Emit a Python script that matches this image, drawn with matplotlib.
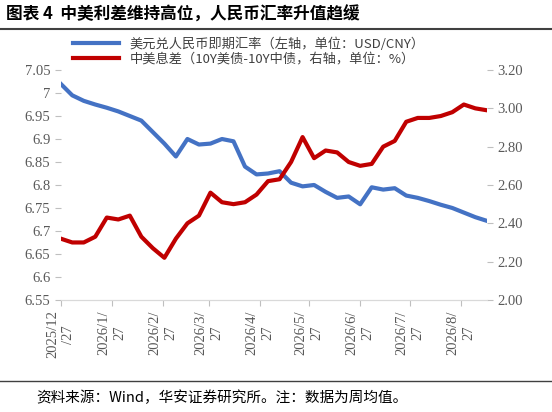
import numpy as np
import matplotlib.pyplot as plt
from matplotlib.lines import Line2D

plt.rcParams['font.family'] = ['Noto Sans CJK SC', 'DejaVu Sans']

usdcny = [7.02, 6.995, 6.983, 6.975, 6.968, 6.96, 6.95, 6.94, 6.915, 6.89,
          6.862, 6.90, 6.888, 6.89, 6.90, 6.895, 6.84, 6.823, 6.825, 6.83,
          6.805, 6.797, 6.80, 6.785, 6.772, 6.775, 6.758, 6.795, 6.79, 6.793,
          6.777, 6.772, 6.765, 6.757, 6.75, 6.74, 6.73, 6.722]
spread = [2.32, 2.30, 2.30, 2.33, 2.43, 2.42, 2.44, 2.33, 2.27, 2.22,
          2.32, 2.40, 2.44, 2.56, 2.51, 2.50, 2.51, 2.55, 2.62, 2.63,
          2.72, 2.85, 2.74, 2.78, 2.77, 2.72, 2.70, 2.71, 2.80, 2.83,
          2.93, 2.95, 2.95, 2.96, 2.98, 3.02, 3.00, 2.99]
tick_days = [0, 31, 62, 90, 121, 151, 182, 212, 243]
tick_labels = ['2025/12\n/27', '2026/1/\n27', '2026/2/\n27', '2026/3/\n27', '2026/4/\n27',
               '2026/5/\n27', '2026/6/\n27', '2026/7/\n27', '2026/8/\n27']

days = np.arange(len(usdcny)) * 7

fig = plt.figure(figsize=(5.52, 4.12), dpi=100)
ax = fig.add_axes([0.11, 0.272, 0.772, 0.558])
ax2 = ax.twinx()
ax.plot(days, usdcny, color='#4472C4', lw=3)
ax2.plot(days, spread, color='#C00000', lw=3)

ax.set_ylim(6.55, 7.05)
ax.set_yticks(np.arange(6.55, 7.051, 0.05))
ax.set_yticklabels(['6.55', '6.6', '6.65', '6.7', '6.75', '6.8', '6.85', '6.9', '6.95', '7', '7.05'])
ax2.set_ylim(2.0, 3.2)
ax2.set_yticks(np.arange(2.0, 3.21, 0.2))
ax2.set_yticklabels(['%.2f' % v for v in np.arange(2.0, 3.21, 0.2)])
ax.set_xlim(0, days[-1])
ax.set_xticks(tick_days)
ax.set_xticklabels(tick_labels, rotation=90, va='top', ha='center', linespacing=1.3)

for a in (ax, ax2):
    for s in a.spines.values():
        s.set_visible(False)
    a.spines['bottom'].set_visible(True)
    a.spines['bottom'].set_color('#D9D9D9')
    a.tick_params(colors='#595959', labelsize=10.5, length=4, width=0.8)
    a.tick_params(axis='both', color='#BFBFBF')
    for t in a.get_yticklabels() + a.get_xticklabels():
        t.set_family(['Liberation Serif', 'DejaVu Serif'])

handles = [Line2D([], [], color='#4472C4', lw=3), Line2D([], [], color='#C00000', lw=3)]
fig.legend(handles, ['美元兑人民币即期汇率（左轴，单位：USD/CNY）',
                     '中美息差（10Y美债-10Y中债，右轴，单位：%）'],
           loc='upper left', bbox_to_anchor=(0.12, 0.925), frameon=False,
           fontsize=9.5, handlelength=3.5, labelspacing=0.1, borderpad=0,
           labelcolor='#404040')

fig.text(0.01, 0.965, '图表 4  中美利差维持高位，人民币汇率升值趋缓', fontsize=12,
         fontweight='bold', va='center')
fig.add_artist(Line2D([0, 1], [0.93, 0.93], color='#404040', lw=1.5))
fig.add_artist(Line2D([0, 1], [0.075, 0.075], color='#404040', lw=1))
fig.text(0.065, 0.035, '资料来源：Wind，华安证券研究所。注：数据为周均值。', fontsize=10.5, va='center')

fig.savefig('out.png', dpi=100)
